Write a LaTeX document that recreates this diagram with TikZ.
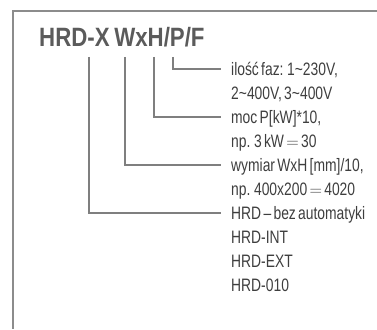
\documentclass[tikz,border=0pt]{standalone}
\usepackage{fontspec}
\setmainfont{Liberation Sans}[FakeStretch=0.77, WordSpace=0.6]
\newfontfamily\codefont{Liberation Sans}[FakeStretch=0.84, WordSpace=0.75]
\usepackage{tikz}
\usetikzlibrary{positioning}

\definecolor{txtgray}{HTML}{3E3E3E}
\definecolor{linegray}{HTML}{7F7F7F}
\definecolor{framegray}{HTML}{8C8C8C}

\begin{document}
\begin{tikzpicture}[x=1pt, y=-1pt,
    codeline/.style={draw=linegray, line width=1.6pt},
    desc/.style={anchor=base west, inner sep=0pt, text=txtgray, font=\fontsize{18}{20}\selectfont}]

    \useasboundingbox (0,0) rectangle (377,329);

    % Frame (top and left edge)
    \draw[framegray, line width=1.2pt] (377,11) -- (13,11) -- (13,329);

    % Type code
    \node[anchor=base west, inner sep=0pt, text=txtgray!85!white, font=\codefont\fontsize{26.5}{28}\bfseries\selectfont]
        (code) at (39,46) {HRD-X WxH/P/F};

    % Descriptions
    \node[desc] (faz)   at (231,75)  {ilość faz: 1\textasciitilde 230V,};
    \node[desc] (faz2)  at (231,99)  {2\textasciitilde 400V, 3\textasciitilde 400V};
    \node[desc] (moc)   at (231,123) {moc P[kW]*10,};
    \node[desc] (moc2)  at (231,147) {np. 3 kW $=$ 30};
    \node[desc] (size)  at (231,171) {wymiar WxH [mm]/10,};
    \node[desc] (size2) at (231,195) {np. 400x200 $=$ 4020};
    \node[desc] (hrd)   at (231,219) {HRD -- bez automatyki};
    \node[desc] (int)   at (231,243) {HRD-INT};
    \node[desc] (ext)   at (231,267) {HRD-EXT};
    \node[desc] (hrd10) at (231,291) {HRD-010};

    % Starting points under the code letters
    \coordinate (topX) at (89,57);
    \coordinate (topWxH) at (125,57);
    \coordinate (topP) at (154,57);
    \coordinate (topF) at (173,57);

    % Connectors
    \draw[codeline] (topF)   |- ([xshift=-10pt, yshift=6pt]faz.base west);
    \draw[codeline] (topP)   |- ([xshift=-10pt, yshift=6pt]moc.base west);
    \draw[codeline] (topWxH) |- ([xshift=-10pt, yshift=6pt]size.base west);
    \draw[codeline] (topX)   |- ([xshift=-10pt, yshift=6pt]hrd.base west);

\end{tikzpicture}
\end{document}
